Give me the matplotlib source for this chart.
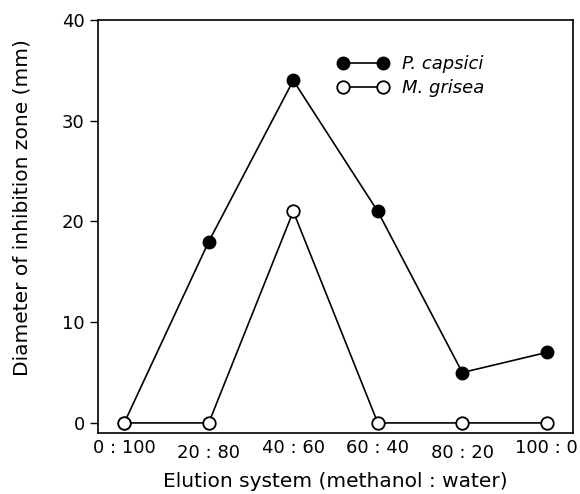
import matplotlib
matplotlib.use('Agg')
import matplotlib.pyplot as plt

# data
ratios = ['0 : 100', '20 : 80', '40 : 60', '60 : 40', '80 : 20', '100 : 0']
p_capsici = [0, 18, 34, 21, 5, 7]
m_grisea = [0, 0, 21, 0, 0, 0]

plt.rcParams['font.family'] = ['DejaVu Sans']

fig = plt.figure(figsize=(5.8, 4.94), dpi=100)
ax = fig.add_axes([0.169, 0.1235, 0.819, 0.836])

x = list(range(len(ratios)))
ax.plot(x, p_capsici, color='black', lw=1.2, marker='o', markersize=9,
        markerfacecolor='black', markeredgecolor='black', label='P. capsici')
ax.plot(x, m_grisea, color='black', lw=1.2, marker='o', markersize=9,
        markerfacecolor='white', markeredgecolor='black', markeredgewidth=1.3,
        label='M. grisea')

ax.set_xlim(-0.31, 5.31)
ax.set_ylim(-1, 40)
ax.set_yticks([0, 10, 20, 30, 40])

# the scanned labels sit at two heights: 20:80 and 80:20 are a bit lower
upper = [0, 2, 3, 5]
lower = [1, 4]
ax.set_xticks(upper)
ax.set_xticklabels([ratios[i] for i in upper])
ax.set_xticks(lower, minor=True)
ax.set_xticklabels([ratios[i] for i in lower], minor=True)
ax.tick_params(axis='x', which='major', length=0, pad=4, labelsize=13)
ax.tick_params(axis='x', which='minor', length=0, pad=8, labelsize=13)
ax.tick_params(axis='y', direction='out', length=5.5, width=1, pad=4, labelsize=13)

for s in ax.spines.values():
    s.set_linewidth(1.2)

ax.set_xlabel('Elution system (methanol : water)', fontsize=14.5)
ax.set_ylabel('Diameter of inhibition zone (mm)', fontsize=14.5)
ax.xaxis.set_label_coords(0.5, -0.095)
ax.yaxis.set_label_coords(-0.14, 0.545)

leg = ax.legend(loc='upper left', bbox_to_anchor=(0.485, 0.937), frameon=False,
                numpoints=2, handlelength=2.8, handletextpad=0.8,
                labelspacing=0.35, borderpad=0,
                prop={'style': 'italic', 'size': 13})

fig.savefig('out.png', dpi=100)
